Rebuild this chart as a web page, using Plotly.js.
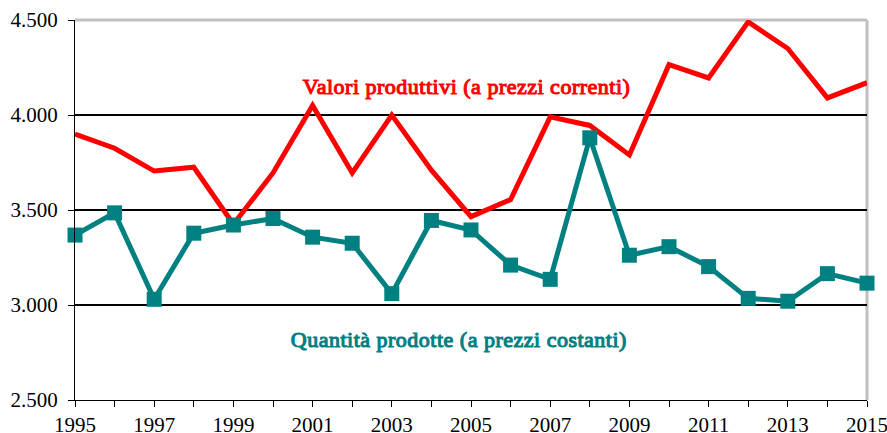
<!DOCTYPE html>
<html>
<head>
<meta charset="utf-8">
<script src="https://cdn.plot.ly/plotly-3.0.1.min.js"></script>
<style>html,body{margin:0;padding:0;background:#fff;}#chart{width:887px;height:433px;}</style>
</head>
<body>
<div id="chart"></div>
<script>
const years = [1995,1996,1997,1998,1999,2000,2001,2002,2003,2004,2005,2006,2007,2008,2009,2010,2011,2012,2013,2014,2015];
const valoriCorrenti = [3900,3825,3705,3725,3425,3695,4050,3695,4000,3710,3465,3555,3990,3945,3790,4265,4195,4490,4350,4090,4170];
const quantitaCostanti = [3368,3485,3030,3378,3421,3455,3357,3325,3060,3445,3395,3210,3135,3880,3262,3307,3202,3035,3020,3165,3115];
const yTickVals = [2500,3000,3500,4000,4500];
const yTickText = ["2.500","3.000","3.500","4.000","4.500"];
const xTickText = years.map(y => (y % 2 === 1 ? String(y) : ""));
const labelValori = "Valori produttivi (a prezzi correnti)";
const labelQuantita = "Quantità prodotte (a prezzi costanti)";

const RED = "#ff0000", TEAL = "#008080";
const font = "Liberation Serif";

const traces = [
  {x: years, y: valoriCorrenti, type: "scatter", mode: "lines",
   line: {color: RED, width: 5}, hoverinfo: "skip"},
  {x: years, y: quantitaCostanti, type: "scatter", mode: "lines+markers",
   line: {color: TEAL, width: 5},
   marker: {symbol: "square", size: 15, color: TEAL}, hoverinfo: "skip", cliponaxis: false}
];

const layout = {
  width: 887, height: 433,
  margin: {l: 75, r: 20, t: 20, b: 33},
  paper_bgcolor: "#fff", plot_bgcolor: "#fff",
  showlegend: false,
  font: {family: font, size: 21, color: "#000"},
  xaxis: {
    range: [1995, 2015], tickvals: years, ticktext: xTickText,
    ticks: "outside", ticklen: 6, tickcolor: "#000", tickwidth: 1,
    ticklabeloverflow: "allow",
    showline: true, linecolor: "#000", linewidth: 1,
    showgrid: false, zeroline: false, fixedrange: true,
    tickfont: {family: font, size: 21, color: "#000"}
  },
  yaxis: {
    range: [2500, 4500], tickvals: yTickVals, ticktext: yTickText,
    ticks: "outside", ticklen: 6, tickcolor: "#000", tickwidth: 1,
    ticklabelstandoff: 6, ticklabeloverflow: "allow",
    showline: true, linecolor: "#000", linewidth: 1,
    showgrid: true, gridcolor: "#000", gridwidth: 1.2,
    zeroline: false, fixedrange: true,
    tickfont: {family: font, size: 21, color: "#000"}
  },
  shapes: [
    {type: "line", xref: "paper", yref: "paper", x0: 0, x1: 1, y0: 1, y1: 1,
     line: {color: "#bfbfbf", width: 3}, layer: "between"},
    {type: "line", xref: "paper", yref: "paper", x0: 1, x1: 1, y0: 0, y1: 1,
     line: {color: "#bfbfbf", width: 3}, layer: "between"}
  ],
  annotations: [
    {text: labelValori, xref: "paper", yref: "paper",
     x: (466-75)/792, y: (400-86)/380, xanchor: "center", yanchor: "middle", showarrow: false,
     font: {family: font, size: 22, color: RED}},
    {text: labelQuantita, xref: "paper", yref: "paper",
     x: (459-75)/792, y: (400-339)/380, xanchor: "center", yanchor: "middle", showarrow: false,
     font: {family: font, size: 22, color: TEAL}}
  ]
};

Plotly.newPlot("chart", traces, layout, {displayModeBar: false, staticPlot: true}).then(gd => {
  // emulate bold serif (bold face not available): stroke text in its own colour
  gd.querySelectorAll(".annotation-text").forEach(t => {
    const c = t.style.fill || t.getAttribute("fill");
    t.style.stroke = c;
    t.style.strokeWidth = "1.1px";
    t.style.paintOrder = "stroke";
    t.style.letterSpacing = "0.5px";
  });
});
</script>
</body>
</html>
